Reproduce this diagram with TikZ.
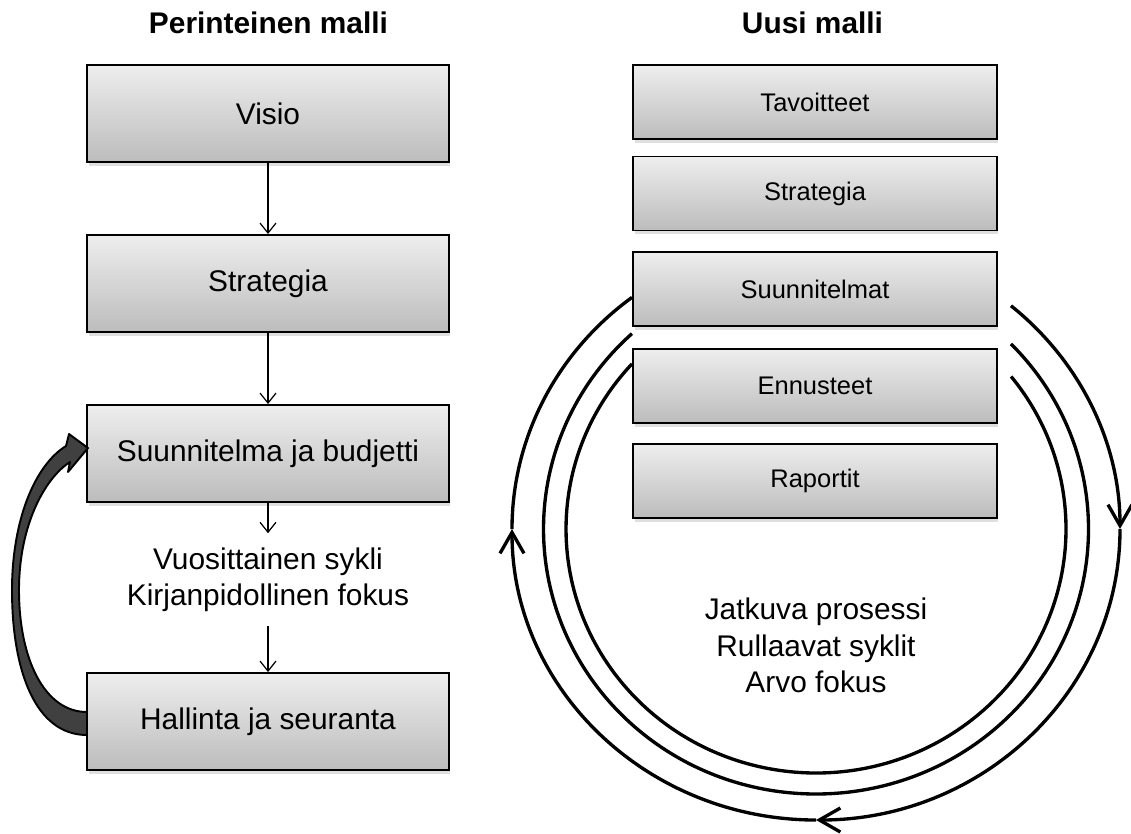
\documentclass[tikz,border=0pt]{standalone}
\usepackage{fontspec}
\setmainfont{Liberation Sans}
\usetikzlibrary{arrows.meta,shadows}
\definecolor{boxtop}{HTML}{EEEEEE}
\definecolor{boxbot}{HTML}{BCBCBC}
\definecolor{loopgray}{HTML}{404040}
\begin{document}
\begin{tikzpicture}[x=0.02cm, y=-0.02cm,
  box/.style={draw=black, line width=1.1pt, top color=boxtop, bottom color=boxbot,
    drop shadow={shadow xshift=0.03cm, shadow yshift=-0.07cm, opacity=0.25}, inner sep=0pt},
  lbox/.style={box, minimum width=7.24cm, minimum height=1.94cm, font=\fontsize{17}{20}\selectfont},
  rbox/.style={box, minimum width=7.28cm, minimum height=1.48cm, font=\fontsize{14.5}{17}\selectfont},
  title/.style={font=\fontsize{17}{20}\selectfont\bfseries, inner sep=0pt},
  conn/.style={line width=0.7pt, -{Straight Barb[length=0.2cm, width=0.32cm]}},
  ring/.style={line width=1.9pt},
  ringtip/.style={ring, -{Straight Barb[length=0.42cm, width=0.48cm]}}]
  \useasboundingbox (0,0) rectangle (1131,833);
  \node[title, anchor=base] (ltitle) at (268.5,33) {Perinteinen malli};
  \node[title, anchor=base] (rtitle) at (812.5,33) {Uusi malli};
  \node[lbox] (visio) at (268,113.5) {Visio};
  \node[lbox] (strat) at (268,283.5) {Strategia};
  \node[lbox] (suun) at (268,453.5) {Suunnitelma ja budjetti};
  \node[align=center, inner xsep=0pt, inner ysep=0.28cm, font=\fontsize{17}{20.5}\selectfont] (cyc) at (268,579.5)
    {Vuosittainen sykli\\Kirjanpidollinen fokus};
  \node[lbox] (hall) at (268,721.5) {Hallinta ja seuranta};
  \draw[conn] (visio) -- (strat);
  \draw[conn] (strat) -- (suun);
  \draw[conn] (suun) -- (cyc);
  \draw[conn] (cyc) -- (hall);
  \filldraw[fill=loopgray, draw=black, line width=1.1pt, line join=round]
    (87,735) .. controls (35,735) and (12,670) .. (12,590)
    .. controls (12,520) and (35,465) .. (66,446) -- (69,434) -- (88,448) -- (68,472) -- (70,462)
    .. controls (45,478) and (19,525) .. (19,590)
    .. controls (19,660) and (45,712) .. (87,712) -- cycle;
  \coordinate (ctr) at (816,529);
  \foreach \a/\b in {-50.1/0, 0/90, 90/180}
    \draw[ringtip] (ctr) ++(\a:304 and 291) arc[start angle=\a, end angle=\b, x radius=304, y radius=291];
  \draw[ring] (ctr) ++(180:304 and 291) arc[start angle=180, end angle=232.75, x radius=304, y radius=291];
  \draw[ring] (ctr) ++(-44.3:272.5 and 265) arc[start angle=-44.3, end angle=227.5, x radius=272.5, y radius=265];
  \draw[ring] (ctr) ++(-38.7:250 and 244) arc[start angle=-38.7, end angle=222.6, x radius=250, y radius=244];
  \node[rbox] (tav) at (815,102) {Tavoitteet};
  \node[rbox] (rstrat) at (815,193.5) {Strategia};
  \node[rbox] (rsuun) at (815,289) {Suunnitelmat};
  \node[rbox] (enn) at (815,386) {Ennusteet};
  \node[rbox] (rap) at (815,481) {Raportit};
  \node[align=center, inner sep=0pt, font=\fontsize{17}{20.7}\selectfont] (proc) at (816,645.5)
    {Jatkuva prosessi\\Rullaavat syklit\\Arvo fokus};
\end{tikzpicture}
\end{document}
